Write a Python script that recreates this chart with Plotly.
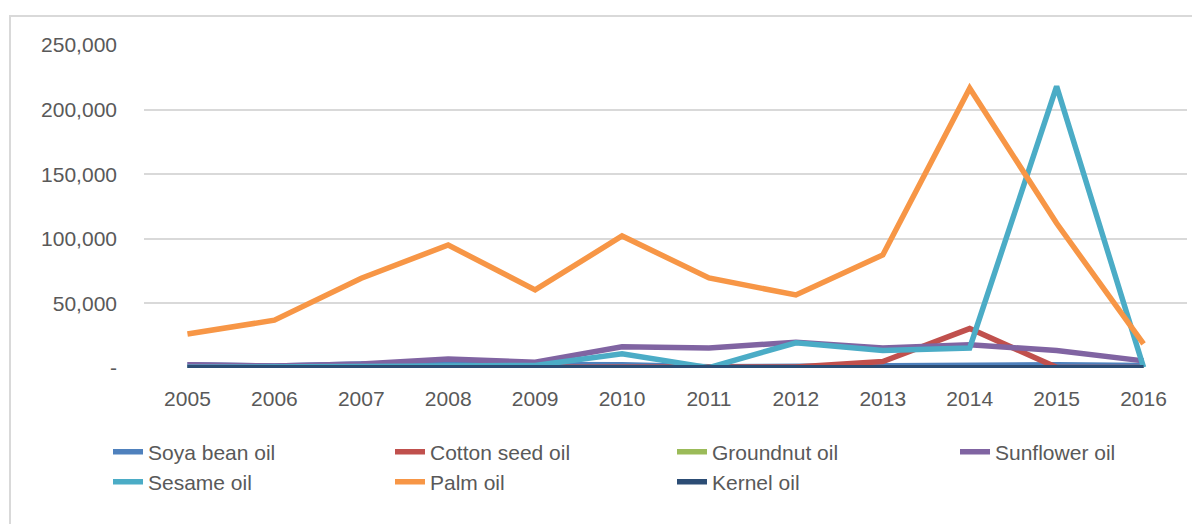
import plotly.graph_objects as go

years = ["2005", "2006", "2007", "2008", "2009", "2010", "2011", "2012", "2013", "2014", "2015", "2016"]

soya_bean = [2500, 1500, 3000, 3000, 2000, 2500, 1000, 1500, 2000, 1500, 2500, 2000]
cotton_seed = [300, 300, 300, 300, 300, 300, 300, 800, 5000, 30500, 500, 300]
groundnut = [0, 0, 0, 0, 0, 0, 0, 0, 0, 0, 0, 0]
sunflower = [2500, 1500, 3000, 7000, 4500, 16500, 15500, 20000, 15500, 18000, 13500, 5500]
sesame = [500, 500, 1000, 1500, 2000, 11000, 300, 19500, 13500, 15500, 218000, 500]
palm = [26300, 37000, 69500, 95200, 60400, 102200, 69700, 56500, 87500, 216500, 112000, 18600]
kernel = [200, 200, 200, 200, 200, 200, 200, 200, 200, 200, 200, 200]

series = [
    ("Soya bean oil", soya_bean, "#4F81BD", "legend"),
    ("Cotton seed oil", cotton_seed, "#C0504D", "legend"),
    ("Groundnut oil", groundnut, "#9BBB59", "legend"),
    ("Sunflower oil", sunflower, "#8064A2", "legend3"),
    ("Sesame oil", sesame, "#4BACC6", "legend2"),
    ("Palm oil", palm, "#F79646", "legend2"),
    ("Kernel oil", kernel, "#2C4D75", "legend2"),
]

y_ticks = [0, 50000, 100000, 150000, 200000, 250000]
y_ticktext = ["-", "50,000", "100,000", "150,000", "200,000", "250,000"]

FONT = "Liberation Sans, Arial, sans-serif"
GREY = "#595959"
FS = 21

fig = go.Figure()
for name, vals, color, lg in series:
    fig.add_trace(go.Scatter(
        x=years, y=vals, name=name, mode="lines",
        line=dict(color=color, width=5.5),
        legend=lg,
    ))

# page has an 8px body margin; targets below are in page pixels
OFF = 8
W, H = 1200, 524
PL, PR, PT, PB = 144, 1187, 45, 368  # plot area in page pixels
L = PL - OFF
T = PT - OFF
R = W - (PR - OFF)
B = H - (PB - OFF)
pw = W - L - R
ph = H - T - B

def px_x(x):
    return (x - OFF - L) / pw

def px_y(y):
    return (H - B - (y - OFF)) / ph

legend_common = dict(
    orientation="h",
    entrywidth=237, entrywidthmode="pixels",
    font=dict(family=FONT, size=FS, color=GREY),
    xanchor="left", yanchor="middle",
    bgcolor="rgba(0,0,0,0)",
    itemclick=False,
)

fig.update_layout(
    width=W, height=H,
    margin=dict(l=L, r=R, t=T, b=B, autoexpand=False),
    paper_bgcolor="white", plot_bgcolor="white",
    font=dict(family=FONT, size=FS, color=GREY),
    showlegend=True,
    legend=dict(x=px_x(108), y=px_y(452), **legend_common),
    legend3=dict(x=px_x(955), y=px_y(452), **legend_common),
    legend2=dict(x=px_x(108), y=px_y(482), **legend_common),
    xaxis=dict(
        type="category", showgrid=False, zeroline=False, showline=False,
        ticks="", ticklabelstandoff=16,
        tickfont=dict(family=FONT, size=FS, color=GREY),
        range=[-0.5, 11.5],
    ),
    yaxis=dict(
        range=[0, 250000], tickvals=y_ticks, ticktext=y_ticktext,
        showgrid=True, gridcolor="#D9D9D9", gridwidth=2,
        zeroline=False, showline=False, ticks="",
        ticklabelstandoff=26,
        tickfont=dict(family=FONT, size=FS, color=GREY),
    ),
    shapes=[dict(
        type="rect", xref="paper", yref="paper",
        x0=px_x(10), x1=px_x(1215), y0=px_y(540), y1=px_y(16),
        line=dict(color="#D9D9D9", width=2), fillcolor="rgba(0,0,0,0)",
        layer="below",
    )],
)

fig.write_html("out.html")
